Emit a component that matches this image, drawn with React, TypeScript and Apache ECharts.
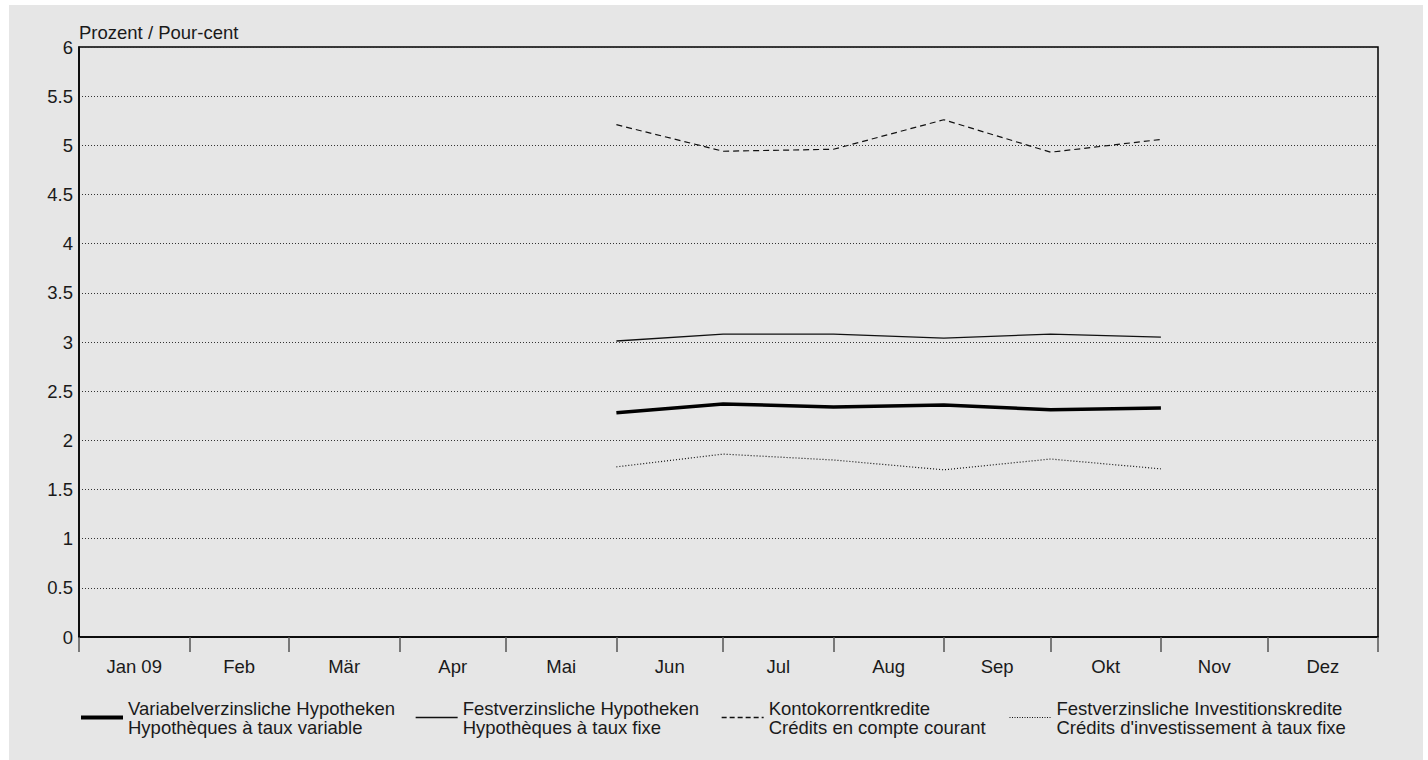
import React, { useEffect, useRef } from "react";
import * as echarts from "echarts";

// ---- data ----
const monthLabels = ["Jan 09", "Feb", "Mär", "Apr", "Mai", "Jun", "Jul", "Aug", "Sep", "Okt", "Nov", "Dez"];
const monthStarts = [
  "2009-01-01", "2009-02-01", "2009-03-01", "2009-04-01", "2009-05-01", "2009-06-01",
  "2009-07-01", "2009-08-01", "2009-09-01", "2009-10-01", "2009-11-01", "2009-12-01", "2010-01-01",
];
const dates = ["2009-06-01", "2009-07-01", "2009-08-01", "2009-09-01", "2009-10-01", "2009-11-01"];
const variabelHyp = [2.28, 2.37, 2.34, 2.36, 2.31, 2.33];
const festHyp = [3.01, 3.08, 3.08, 3.04, 3.08, 3.05];
const kontokorrent = [5.21, 4.94, 4.96, 5.26, 4.93, 5.06];
const festInv = [1.73, 1.86, 1.8, 1.7, 1.81, 1.71];
const seriesNames = [
  "Variabelverzinsliche Hypotheken\nHypothèques à taux variable",
  "Festverzinsliche Hypotheken\nHypothèques à taux fixe",
  "Kontokorrentkredite\nCrédits en compte courant",
  "Festverzinsliche Investitionskredite\nCrédits d'investissement à taux fixe",
];
const yTitle = "Prozent / Pour-cent";
const yMin = 0;
const yMax = 6;
const yStep = 0.5;

const FONT = "'Liberation Sans', Arial, Helvetica, sans-serif";
const FS = 18.5;

const origin = Date.parse("2009-01-01T00:00:00Z");
const dayOf = (s: string) => (Date.parse(s + "T00:00:00Z") - origin) / 86400000;

export default function App() {
  const ref = useRef<HTMLDivElement>(null);
  useEffect(() => {
    if (!ref.current) return;
    const chart = echarts.init(ref.current, undefined, { renderer: "svg" });
    const tickVals = monthStarts.map(dayOf);
    const midVals = monthLabels.map((_, i) => (tickVals[i] + tickVals[i + 1]) / 2);
    const xs = dates.map(dayOf);
    const mk = (vals: number[]) => vals.map((v, i) => [xs[i], v]);

    const styles = [
      { width: 3.5, type: "solid" as any, color: "#000" },
      { width: 1.3, type: "solid" as any, color: "#111" },
      { width: 1.2, type: [6, 4] as any, color: "#111" },
      { width: 1.2, type: [1, 2] as any, color: "#111" },
    ];
    const legendIconTypes: any[] = ["solid", "solid", [5, 3], [1, 1.5]];
    const legendIconWidths = [4, 1.3, 1.3, 1];
    const allVals = [variabelHyp, festHyp, kontokorrent, festInv];
    const legendLefts = [70, 406, 712, 1000];

    chart.setOption({
      animation: false,
      backgroundColor: "#e6e6e6",
      textStyle: { fontFamily: FONT },
      title: {
        text: yTitle,
        left: 70,
        top: 17,
        padding: 0,
        textStyle: { fontFamily: FONT, fontSize: FS, fontWeight: "normal", color: "#1a1a1a", lineHeight: 20 },
      },
      grid: {
        left: 70,
        top: 42,
        right: 45,
        bottom: 123,
        show: true,
        borderColor: "#000",
        borderWidth: 1.5,
        backgroundColor: "transparent",
        containLabel: false,
      },
      xAxis: {
        type: "value",
        min: tickVals[0],
        max: tickVals[tickVals.length - 1],
        axisLine: { show: true, lineStyle: { color: "#000", width: 1.5 } },
        axisTick: { show: true, length: 15, customValues: tickVals, lineStyle: { color: "#555", width: 1.5 } },
        axisLabel: {
          show: true,
          customValues: midVals,
          margin: 20,
          fontFamily: FONT,
          fontSize: FS,
          color: "#1a1a1a",
          formatter: (v: number) => {
            let best = 0;
            midVals.forEach((m, i) => {
              if (Math.abs(m - v) < Math.abs(midVals[best] - v)) best = i;
            });
            return monthLabels[best];
          },
        },
        splitLine: { show: false },
      },
      yAxis: {
        type: "value",
        min: yMin,
        max: yMax,
        interval: yStep,
        axisLine: { show: true, lineStyle: { color: "#000", width: 1.5 } },
        axisTick: { show: false },
        axisLabel: { margin: 6, fontFamily: FONT, fontSize: FS, color: "#1a1a1a" },
        splitLine: { show: true, lineStyle: { color: "#333", width: 1, type: [1, 2] } },
      },
      legend: seriesNames.map((n, i) => ({
        data: [n],
        left: legendLefts[i],
        top: 690.5,
        padding: 0,
        itemWidth: 42,
        itemHeight: 14,
        selectedMode: false,
        lineStyle: { type: legendIconTypes[i], width: legendIconWidths[i], color: styles[i].color },
        itemStyle: { color: "transparent", borderWidth: 0, opacity: 0 },
        textStyle: {
          fontFamily: FONT,
          fontSize: FS,
          color: "#1a1a1a",
          lineHeight: 19,
          padding: [6, 0, 0, 0],
        },
      })),
      series: seriesNames.map((n, i) => ({
        type: "line",
        name: n,
        data: mk(allVals[i]),
        symbol: "none",
        showSymbol: false,
        color: styles[i].color,
        lineStyle: { width: styles[i].width, type: styles[i].type, color: styles[i].color },
        itemStyle: { color: styles[i].color },
        silent: true,
      })),
    });
    return () => chart.dispose();
  }, []);

  return (
    <div style={{ position: "absolute", left: 0, top: 0, width: 1428, height: 760, background: "#fff" }}>
      <div ref={ref} style={{ position: "absolute", left: 9, top: 5, width: 1414, height: 755 }} />
    </div>
  );
}
